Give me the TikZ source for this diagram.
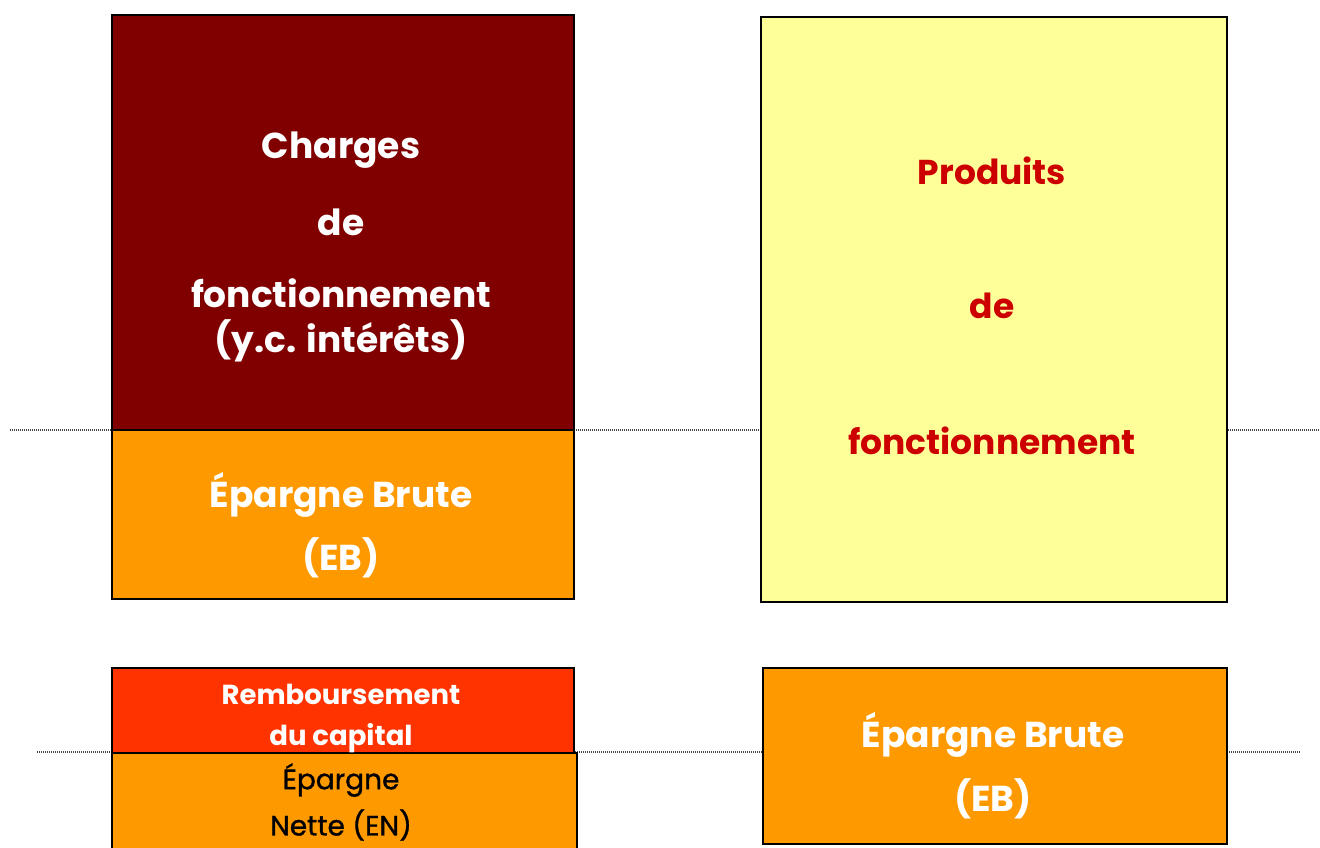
\documentclass[tikz,border=0pt]{standalone}
\usepackage{fontspec}
\setmainfont{Poppins}
\newfontfamily\mediumfont{Poppins}[FakeBold=1.2]
\definecolor{darkred}{HTML}{800000}
\definecolor{orangebox}{HTML}{FF9900}
\definecolor{yellowbox}{HTML}{FFFF99}
\definecolor{redbox}{HTML}{FF3300}
\definecolor{redtext}{HTML}{CC0000}
\definecolor{dotgray}{HTML}{444444}
\begin{document}
\begin{tikzpicture}[x=1pt,y=-1pt,
  blockbox/.style={draw=black,line width=1.5pt,rectangle,inner sep=0pt,anchor=north west},
  dotline/.style={dotgray,line width=1.1pt,dash pattern=on 1pt off 1pt},
  bigtxt/.style={font=\bfseries\fontsize{36}{40}\selectfont,inner sep=0pt},
  midtxt/.style={font=\bfseries\fontsize{34.5}{40}\selectfont,inner sep=0pt},
  smalltxt/.style={font=\bfseries\fontsize{27.5}{30}\selectfont,inner sep=0pt},
  plaintxt/.style={font=\mediumfont\fontsize{28}{30}\selectfont,inner sep=0pt}]
\useasboundingbox (0,0) rectangle (1320,847);
\clip (0,0) rectangle (1320,847);
% guide lines
\coordinate (l1a) at (10,430);
\coordinate (l1b) at (1320,430);
\coordinate (l2a) at (37,752);
\coordinate (l2b) at (1300,752);
\draw[dotline] (l1a) -- (l1b);
\draw[dotline] (l2a) -- (l2b);
% left top
\node[blockbox,fill=darkred,minimum width=462pt,minimum height=415pt] (charges) at (111,14) {};
\node[blockbox,fill=orangebox,minimum width=462pt,minimum height=169pt] (ebl) at (111,429) {};
% right top
\node[blockbox,fill=yellowbox,minimum width=466pt,minimum height=585pt] (prod) at (760,16) {};
% bottom left
\node[blockbox,fill=redbox,minimum width=462pt,minimum height=85pt] (remb) at (111,667) {};
\node[blockbox,fill=orangebox,minimum width=465pt,minimum height=120pt] (en) at (111,752) {};
% bottom right
\node[blockbox,fill=orangebox,minimum width=464pt,minimum height=176pt] (ebr) at (762,667) {};
% texts
\node[bigtxt,white] (t1) at (341,150) {Charges};
\node[bigtxt,white] (t2) at (341,222) {de};
\node[bigtxt,white] (t3) at (341,293) {fonctionnement};
\node[bigtxt,white] (t4) at (341,341) {(y.c. intérêts)};
\node[bigtxt,white] (t5) at (341,495) {Épargne Brute};
\node[bigtxt,white] (t6) at (341,558) {(EB)};
\node[midtxt,redtext] (t7) at (992,171) {Produits};
\node[midtxt,redtext] (t8) at (992,306) {de};
\node[midtxt,redtext] (t9) at (992,441) {fonctionnement};
\node[smalltxt,white] (t10) at (341,694) {Remboursement};
\node[smalltxt,white] (t11) at (341,738) {du capital};
\node[plaintxt,black] (t12) at (341,780) {Épargne};
\node[plaintxt,black] (t13) at (341,825) {Nette (EN)};
\node[bigtxt,white] (t14) at (993,735) {Épargne Brute};
\node[bigtxt,white] (t15) at (993,799) {(EB)};
\end{tikzpicture}
\end{document}
